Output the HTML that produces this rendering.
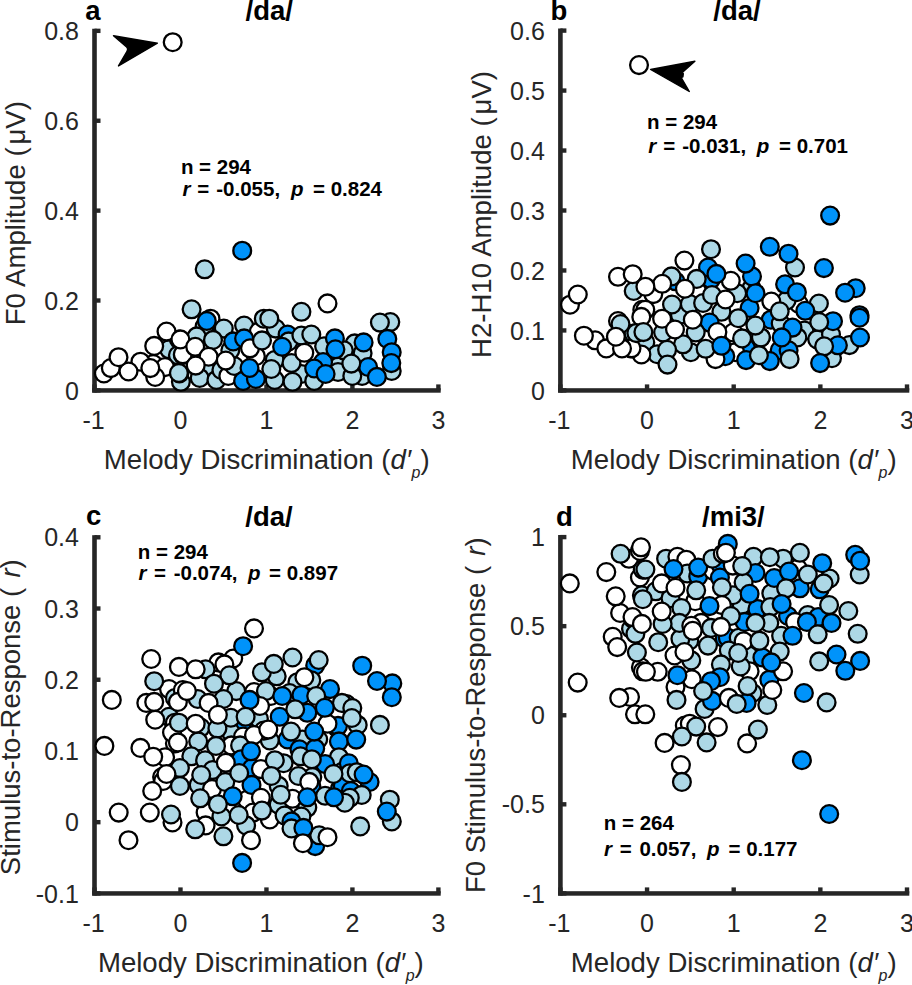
<!DOCTYPE html><html><head><meta charset="utf-8"><title>Melody discrimination scatter plots</title><style>
html,body{margin:0;padding:0;background:#fff;width:912px;height:985px;overflow:hidden}
svg{display:block}
text{font-family:"Liberation Sans",sans-serif;white-space:pre}
.tk{font-size:25px;fill:#262626}
.lb{font-size:27.8px;fill:#262626}
.ti{font-size:27.5px;font-weight:bold;fill:#000}
.an{font-size:20.5px;font-weight:bold;fill:#000}
.pts circle{stroke:#000;stroke-width:2.3}
.w{fill:#fff}.l{fill:#add8e6}.b{fill:#0093fa}
</style></head><body>
<svg width="912" height="985" viewBox="0 0 912 985">
<g fill="#262626">
<rect x="92.20" y="28.75" width="4.6" height="363.85"/>
<rect x="92.20" y="388.20" width="348.50" height="4.5"/>
<rect x="94.50" y="388.20" width="6" height="4.4"/>
<rect x="94.50" y="298.31" width="6" height="4.4"/>
<rect x="94.50" y="208.43" width="6" height="4.4"/>
<rect x="94.50" y="118.54" width="6" height="4.4"/>
<rect x="94.50" y="28.65" width="6" height="4.4"/>
<rect x="92.30" y="384.40" width="4.4" height="6"/>
<rect x="178.28" y="384.40" width="4.4" height="6"/>
<rect x="264.25" y="384.40" width="4.4" height="6"/>
<rect x="350.22" y="384.40" width="4.4" height="6"/>
<rect x="436.20" y="384.40" width="4.4" height="6"/>
</g>
<g class="pts">
<circle cx="169.0" cy="349.3" r="8.9" class="l"/>
<circle cx="177.9" cy="355.3" r="8.9" class="l"/>
<circle cx="180.9" cy="381.8" r="8.9" class="l"/>
<circle cx="153.2" cy="364.1" r="8.9" class="w"/>
<circle cx="165.0" cy="367.1" r="8.9" class="w"/>
<circle cx="155.2" cy="377.0" r="8.9" class="w"/>
<circle cx="140.4" cy="361.7" r="8.9" class="w"/>
<circle cx="179.4" cy="373.5" r="8.9" class="l"/>
<circle cx="210.5" cy="318.7" r="8.9" class="w"/>
<circle cx="204.6" cy="326.6" r="8.9" class="l"/>
<circle cx="196.7" cy="336.4" r="8.9" class="l"/>
<circle cx="182.9" cy="355.2" r="8.9" class="w"/>
<circle cx="207.6" cy="371.0" r="8.9" class="l"/>
<circle cx="199.7" cy="377.9" r="8.9" class="l"/>
<circle cx="216.4" cy="379.9" r="8.9" class="l"/>
<circle cx="221.4" cy="370.0" r="8.9" class="l"/>
<circle cx="228.3" cy="375.9" r="8.9" class="w"/>
<circle cx="234.2" cy="366.0" r="8.9" class="l"/>
<circle cx="244.1" cy="325.6" r="8.9" class="l"/>
<circle cx="258.9" cy="331.5" r="8.9" class="w"/>
<circle cx="263.8" cy="318.7" r="8.9" class="l"/>
<circle cx="255.9" cy="356.2" r="8.9" class="w"/>
<circle cx="275.7" cy="328.6" r="8.9" class="l"/>
<circle cx="287.6" cy="334.5" r="8.9" class="b"/>
<circle cx="288.6" cy="341.4" r="8.9" class="l"/>
<circle cx="301.4" cy="335.5" r="8.9" class="l"/>
<circle cx="324.1" cy="346.3" r="8.9" class="l"/>
<circle cx="274.7" cy="360.1" r="8.9" class="l"/>
<circle cx="274.7" cy="379.9" r="8.9" class="l"/>
<circle cx="301.4" cy="374.0" r="8.9" class="l"/>
<circle cx="338.9" cy="366.0" r="8.9" class="l"/>
<circle cx="323.1" cy="362.1" r="8.9" class="b"/>
<circle cx="314.2" cy="380.9" r="8.9" class="l"/>
<circle cx="338.0" cy="372.0" r="8.9" class="l"/>
<circle cx="347.8" cy="350.3" r="8.9" class="l"/>
<circle cx="354.7" cy="343.4" r="8.9" class="l"/>
<circle cx="362.6" cy="353.2" r="8.9" class="l"/>
<circle cx="362.1" cy="375.9" r="8.9" class="l"/>
<circle cx="390.3" cy="322.1" r="8.9" class="l"/>
<circle cx="391.7" cy="371.0" r="8.9" class="l"/>
<circle cx="223.8" cy="328.6" r="8.9" class="l"/>
<circle cx="230.3" cy="350.3" r="8.9" class="l"/>
<circle cx="233.2" cy="341.4" r="8.9" class="b"/>
<circle cx="244.1" cy="338.4" r="8.9" class="b"/>
<circle cx="250.0" cy="348.3" r="8.9" class="w"/>
<circle cx="243.1" cy="380.9" r="8.9" class="b"/>
<circle cx="255.9" cy="378.9" r="8.9" class="b"/>
<circle cx="343.8" cy="350.3" r="8.9" class="l"/>
<circle cx="291.5" cy="363.1" r="8.9" class="l"/>
<circle cx="334.9" cy="338.4" r="8.9" class="b"/>
<circle cx="352.3" cy="375.9" r="8.9" class="l"/>
<circle cx="368.1" cy="367.0" r="8.9" class="b"/>
<circle cx="103.9" cy="373.5" r="8.9" class="w"/>
<circle cx="110.8" cy="368.1" r="8.9" class="w"/>
<circle cx="128.5" cy="371.5" r="8.9" class="w"/>
<circle cx="118.5" cy="357.2" r="8.9" class="w"/>
<circle cx="150.3" cy="368.1" r="8.9" class="w"/>
<circle cx="154.2" cy="345.9" r="8.9" class="w"/>
<circle cx="178.9" cy="339.5" r="8.9" class="w"/>
<circle cx="166.5" cy="331.6" r="8.9" class="w"/>
<circle cx="182.8" cy="354.3" r="8.9" class="w"/>
<circle cx="178.9" cy="373.0" r="8.9" class="l"/>
<circle cx="191.6" cy="309.3" r="8.9" class="l"/>
<circle cx="206.8" cy="320.9" r="8.9" class="b"/>
<circle cx="213.0" cy="339.9" r="8.9" class="l"/>
<circle cx="180.4" cy="339.4" r="8.9" class="w"/>
<circle cx="195.2" cy="346.8" r="8.9" class="w"/>
<circle cx="208.6" cy="356.7" r="8.9" class="w"/>
<circle cx="195.7" cy="365.6" r="8.9" class="w"/>
<circle cx="225.8" cy="360.6" r="8.9" class="w"/>
<circle cx="262.0" cy="340.4" r="8.9" class="l"/>
<circle cx="249.5" cy="368.0" r="8.9" class="b"/>
<circle cx="269.3" cy="318.7" r="8.9" class="l"/>
<circle cx="282.1" cy="346.8" r="8.9" class="b"/>
<circle cx="311.3" cy="334.5" r="8.9" class="l"/>
<circle cx="304.3" cy="352.7" r="8.9" class="w"/>
<circle cx="335.4" cy="349.3" r="8.9" class="b"/>
<circle cx="271.3" cy="369.0" r="8.9" class="l"/>
<circle cx="292.5" cy="381.8" r="8.9" class="l"/>
<circle cx="314.2" cy="368.5" r="8.9" class="b"/>
<circle cx="325.6" cy="374.0" r="8.9" class="b"/>
<circle cx="379.9" cy="322.6" r="8.9" class="l"/>
<circle cx="387.3" cy="338.9" r="8.9" class="b"/>
<circle cx="391.7" cy="352.2" r="8.9" class="b"/>
<circle cx="391.3" cy="363.1" r="8.9" class="b"/>
<circle cx="376.9" cy="376.9" r="8.9" class="b"/>
<circle cx="351.3" cy="363.6" r="8.9" class="l"/>
<circle cx="363.6" cy="342.4" r="8.9" class="b"/>
<circle cx="301.4" cy="311.8" r="8.9" class="l"/>
<circle cx="327.5" cy="303.4" r="8.9" class="w"/>
<circle cx="204.7" cy="269.3" r="8.9" class="l"/>
<circle cx="242.2" cy="250.7" r="8.9" class="b"/>
<circle cx="172.7" cy="42.2" r="8.9" class="w"/>
</g>
<text class="tk" x="78.90" y="399.50" text-anchor="end">0</text>
<text class="tk" x="78.90" y="309.61" text-anchor="end">0.2</text>
<text class="tk" x="78.90" y="219.72" text-anchor="end">0.4</text>
<text class="tk" x="78.90" y="129.84" text-anchor="end">0.6</text>
<text class="tk" x="78.90" y="39.95" text-anchor="end">0.8</text>
<text class="tk" x="93.50" y="428.80" text-anchor="middle">-1</text>
<text class="tk" x="180.47" y="428.80" text-anchor="middle">0</text>
<text class="tk" x="266.45" y="428.80" text-anchor="middle">1</text>
<text class="tk" x="352.42" y="428.80" text-anchor="middle">2</text>
<text class="tk" x="438.40" y="428.80" text-anchor="middle">3</text>
<text class="lb" style="font-size:27.6px" x="103.80" y="469.00">Melody Discrimination (<tspan font-style="italic">d</tspan><tspan dx="1.3">′</tspan><tspan font-style="italic" font-size="16px" dy="9" dx="-0.8">p</tspan><tspan dy="-9" dx="0">)</tspan></text>
<g fill="#262626">
<rect x="558.10" y="28.50" width="4.6" height="364.10"/>
<rect x="558.10" y="388.20" width="351.20" height="4.5"/>
<rect x="560.40" y="388.20" width="6" height="4.4"/>
<rect x="560.40" y="328.23" width="6" height="4.4"/>
<rect x="560.40" y="268.27" width="6" height="4.4"/>
<rect x="560.40" y="208.30" width="6" height="4.4"/>
<rect x="560.40" y="148.33" width="6" height="4.4"/>
<rect x="560.40" y="88.37" width="6" height="4.4"/>
<rect x="560.40" y="28.40" width="6" height="4.4"/>
<rect x="558.20" y="384.40" width="4.4" height="6"/>
<rect x="644.85" y="384.40" width="4.4" height="6"/>
<rect x="731.50" y="384.40" width="4.4" height="6"/>
<rect x="818.15" y="384.40" width="4.4" height="6"/>
<rect x="904.80" y="384.40" width="4.4" height="6"/>
</g>
<g class="pts">
<circle cx="618.0" cy="321.0" r="8.9" class="w"/>
<circle cx="642.3" cy="309.8" r="8.9" class="w"/>
<circle cx="631.2" cy="348.4" r="8.9" class="w"/>
<circle cx="633.7" cy="291.0" r="8.9" class="l"/>
<circle cx="643.4" cy="343.3" r="8.9" class="l"/>
<circle cx="595.1" cy="340.3" r="8.9" class="w"/>
<circle cx="711.0" cy="279.3" r="8.9" class="b"/>
<circle cx="675.5" cy="281.3" r="8.9" class="b"/>
<circle cx="653.3" cy="294.1" r="8.9" class="w"/>
<circle cx="697.2" cy="291.2" r="8.9" class="w"/>
<circle cx="645.3" cy="309.8" r="8.9" class="w"/>
<circle cx="633.5" cy="333.5" r="8.9" class="l"/>
<circle cx="645.3" cy="342.4" r="8.9" class="l"/>
<circle cx="663.1" cy="332.5" r="8.9" class="l"/>
<circle cx="657.2" cy="354.2" r="8.9" class="l"/>
<circle cx="641.4" cy="354.5" r="8.9" class="w"/>
<circle cx="631.5" cy="348.3" r="8.9" class="w"/>
<circle cx="679.9" cy="314.7" r="8.9" class="l"/>
<circle cx="721.4" cy="311.8" r="8.9" class="l"/>
<circle cx="733.2" cy="332.5" r="8.9" class="w"/>
<circle cx="746.1" cy="348.3" r="8.9" class="b"/>
<circle cx="735.2" cy="352.2" r="8.9" class="w"/>
<circle cx="725.3" cy="356.2" r="8.9" class="b"/>
<circle cx="715.5" cy="359.1" r="8.9" class="w"/>
<circle cx="690.8" cy="352.2" r="8.9" class="l"/>
<circle cx="760.9" cy="337.4" r="8.9" class="l"/>
<circle cx="751.5" cy="288.2" r="8.9" class="l"/>
<circle cx="737.2" cy="293.2" r="8.9" class="l"/>
<circle cx="798.9" cy="304.0" r="8.9" class="w"/>
<circle cx="795.0" cy="267.5" r="8.9" class="l"/>
<circle cx="855.7" cy="288.2" r="8.9" class="b"/>
<circle cx="770.8" cy="319.7" r="8.9" class="b"/>
<circle cx="780.7" cy="323.6" r="8.9" class="l"/>
<circle cx="804.4" cy="330.5" r="8.9" class="l"/>
<circle cx="817.2" cy="339.4" r="8.9" class="l"/>
<circle cx="831.0" cy="334.5" r="8.9" class="l"/>
<circle cx="832.0" cy="358.2" r="8.9" class="l"/>
<circle cx="849.4" cy="345.1" r="8.9" class="l"/>
<circle cx="859.5" cy="315.2" r="8.9" class="b"/>
<circle cx="570.0" cy="304.7" r="8.9" class="w"/>
<circle cx="618.0" cy="276.8" r="8.9" class="w"/>
<circle cx="583.9" cy="335.7" r="8.9" class="w"/>
<circle cx="606.3" cy="348.4" r="8.9" class="w"/>
<circle cx="622.0" cy="348.4" r="8.9" class="w"/>
<circle cx="620.5" cy="324.0" r="8.9" class="l"/>
<circle cx="641.3" cy="316.9" r="8.9" class="w"/>
<circle cx="636.3" cy="333.1" r="8.9" class="l"/>
<circle cx="671.5" cy="276.4" r="8.9" class="l"/>
<circle cx="708.0" cy="267.5" r="8.9" class="b"/>
<circle cx="689.8" cy="304.0" r="8.9" class="l"/>
<circle cx="703.1" cy="303.0" r="8.9" class="l"/>
<circle cx="752.0" cy="276.4" r="8.9" class="b"/>
<circle cx="730.8" cy="280.8" r="8.9" class="w"/>
<circle cx="712.0" cy="295.0" r="8.9" class="l"/>
<circle cx="749.6" cy="308.0" r="8.9" class="b"/>
<circle cx="786.6" cy="300.5" r="8.9" class="l"/>
<circle cx="771.3" cy="301.5" r="8.9" class="w"/>
<circle cx="818.9" cy="303.5" r="8.9" class="l"/>
<circle cx="805.3" cy="310.8" r="8.9" class="b"/>
<circle cx="709.6" cy="322.6" r="8.9" class="b"/>
<circle cx="695.7" cy="332.5" r="8.9" class="l"/>
<circle cx="683.0" cy="344.3" r="8.9" class="l"/>
<circle cx="705.6" cy="348.8" r="8.9" class="l"/>
<circle cx="746.1" cy="360.1" r="8.9" class="b"/>
<circle cx="797.4" cy="337.4" r="8.9" class="l"/>
<circle cx="760.9" cy="337.4" r="8.9" class="l"/>
<circle cx="837.9" cy="345.3" r="8.9" class="b"/>
<circle cx="779.7" cy="350.3" r="8.9" class="b"/>
<circle cx="788.6" cy="350.3" r="8.9" class="b"/>
<circle cx="769.8" cy="361.1" r="8.9" class="b"/>
<circle cx="789.6" cy="359.1" r="8.9" class="l"/>
<circle cx="833.0" cy="321.2" r="8.9" class="b"/>
<circle cx="785.1" cy="284.3" r="8.9" class="b"/>
<circle cx="796.9" cy="292.2" r="8.9" class="b"/>
<circle cx="577.8" cy="294.5" r="8.9" class="w"/>
<circle cx="632.7" cy="274.2" r="8.9" class="w"/>
<circle cx="615.9" cy="336.7" r="8.9" class="w"/>
<circle cx="643.4" cy="332.1" r="8.9" class="l"/>
<circle cx="711.0" cy="249.2" r="8.9" class="l"/>
<circle cx="684.4" cy="260.6" r="8.9" class="w"/>
<circle cx="716.4" cy="273.9" r="8.9" class="b"/>
<circle cx="662.2" cy="283.8" r="8.9" class="w"/>
<circle cx="645.4" cy="286.7" r="8.9" class="w"/>
<circle cx="696.7" cy="278.9" r="8.9" class="l"/>
<circle cx="684.9" cy="288.7" r="8.9" class="w"/>
<circle cx="672.0" cy="304.5" r="8.9" class="l"/>
<circle cx="662.1" cy="318.7" r="8.9" class="w"/>
<circle cx="675.0" cy="329.5" r="8.9" class="w"/>
<circle cx="667.1" cy="349.8" r="8.9" class="l"/>
<circle cx="667.5" cy="364.6" r="8.9" class="l"/>
<circle cx="769.8" cy="246.8" r="8.9" class="b"/>
<circle cx="788.5" cy="253.7" r="8.9" class="b"/>
<circle cx="745.6" cy="263.6" r="8.9" class="b"/>
<circle cx="755.5" cy="293.2" r="8.9" class="b"/>
<circle cx="725.5" cy="299.5" r="8.9" class="w"/>
<circle cx="738.2" cy="318.2" r="8.9" class="l"/>
<circle cx="692.8" cy="319.7" r="8.9" class="w"/>
<circle cx="717.4" cy="332.0" r="8.9" class="w"/>
<circle cx="755.4" cy="325.6" r="8.9" class="l"/>
<circle cx="742.1" cy="338.4" r="8.9" class="l"/>
<circle cx="721.4" cy="345.8" r="8.9" class="b"/>
<circle cx="758.9" cy="355.2" r="8.9" class="l"/>
<circle cx="779.7" cy="311.3" r="8.9" class="l"/>
<circle cx="819.2" cy="322.1" r="8.9" class="l"/>
<circle cx="792.5" cy="327.6" r="8.9" class="b"/>
<circle cx="781.7" cy="337.4" r="8.9" class="b"/>
<circle cx="824.1" cy="346.3" r="8.9" class="l"/>
<circle cx="820.1" cy="363.1" r="8.9" class="b"/>
<circle cx="830.1" cy="215.6" r="8.9" class="b"/>
<circle cx="823.9" cy="268.1" r="8.9" class="b"/>
<circle cx="845.1" cy="292.7" r="8.9" class="b"/>
<circle cx="859.5" cy="317.7" r="8.9" class="b"/>
<circle cx="860.0" cy="337.5" r="8.9" class="b"/>
<circle cx="639.0" cy="65.1" r="8.9" class="w"/>
</g>
<text class="tk" x="544.80" y="399.50" text-anchor="end">0</text>
<text class="tk" x="544.80" y="339.53" text-anchor="end">0.1</text>
<text class="tk" x="544.80" y="279.57" text-anchor="end">0.2</text>
<text class="tk" x="544.80" y="219.60" text-anchor="end">0.3</text>
<text class="tk" x="544.80" y="159.63" text-anchor="end">0.4</text>
<text class="tk" x="544.80" y="99.67" text-anchor="end">0.5</text>
<text class="tk" x="544.80" y="39.70" text-anchor="end">0.6</text>
<text class="tk" x="559.40" y="428.80" text-anchor="middle">-1</text>
<text class="tk" x="647.05" y="428.80" text-anchor="middle">0</text>
<text class="tk" x="733.70" y="428.80" text-anchor="middle">1</text>
<text class="tk" x="820.35" y="428.80" text-anchor="middle">2</text>
<text class="tk" x="907.00" y="428.80" text-anchor="middle">3</text>
<text class="lb" style="font-size:27.6px" x="570.80" y="469.00">Melody Discrimination (<tspan font-style="italic">d</tspan><tspan dx="1.3">′</tspan><tspan font-style="italic" font-size="16px" dy="9" dx="-0.8">p</tspan><tspan dy="-9" dx="0">)</tspan></text>
<g fill="#262626">
<rect x="92.20" y="535.20" width="4.6" height="360.40"/>
<rect x="92.20" y="891.20" width="348.50" height="4.5"/>
<rect x="94.50" y="891.20" width="6" height="4.4"/>
<rect x="94.50" y="819.98" width="6" height="4.4"/>
<rect x="94.50" y="748.76" width="6" height="4.4"/>
<rect x="94.50" y="677.54" width="6" height="4.4"/>
<rect x="94.50" y="606.32" width="6" height="4.4"/>
<rect x="94.50" y="535.10" width="6" height="4.4"/>
<rect x="92.30" y="887.40" width="4.4" height="6"/>
<rect x="178.28" y="887.40" width="4.4" height="6"/>
<rect x="264.25" y="887.40" width="4.4" height="6"/>
<rect x="350.22" y="887.40" width="4.4" height="6"/>
<rect x="436.20" y="887.40" width="4.4" height="6"/>
</g>
<g class="pts">
<circle cx="169.0" cy="689.1" r="8.9" class="w"/>
<circle cx="146.3" cy="702.9" r="8.9" class="w"/>
<circle cx="174.9" cy="698.0" r="8.9" class="l"/>
<circle cx="218.4" cy="662.4" r="8.9" class="w"/>
<circle cx="233.2" cy="658.5" r="8.9" class="w"/>
<circle cx="205.6" cy="669.3" r="8.9" class="l"/>
<circle cx="197.7" cy="699.0" r="8.9" class="l"/>
<circle cx="254.0" cy="692.0" r="8.9" class="w"/>
<circle cx="315.2" cy="665.4" r="8.9" class="b"/>
<circle cx="276.7" cy="676.3" r="8.9" class="l"/>
<circle cx="311.3" cy="680.2" r="8.9" class="l"/>
<circle cx="297.4" cy="682.2" r="8.9" class="l"/>
<circle cx="289.6" cy="693.0" r="8.9" class="l"/>
<circle cx="301.4" cy="695.0" r="8.9" class="b"/>
<circle cx="270.8" cy="696.0" r="8.9" class="w"/>
<circle cx="265.9" cy="691.1" r="8.9" class="l"/>
<circle cx="392.3" cy="683.4" r="8.9" class="b"/>
<circle cx="346.4" cy="704.1" r="8.9" class="l"/>
<circle cx="357.7" cy="724.9" r="8.9" class="l"/>
<circle cx="169.0" cy="716.8" r="8.9" class="l"/>
<circle cx="174.9" cy="722.7" r="8.9" class="w"/>
<circle cx="174.9" cy="743.4" r="8.9" class="w"/>
<circle cx="172.0" cy="732.6" r="8.9" class="w"/>
<circle cx="162.1" cy="777.0" r="8.9" class="w"/>
<circle cx="165.1" cy="757.2" r="8.9" class="w"/>
<circle cx="242.1" cy="723.7" r="8.9" class="b"/>
<circle cx="258.9" cy="718.8" r="8.9" class="l"/>
<circle cx="200.7" cy="727.6" r="8.9" class="l"/>
<circle cx="230.3" cy="731.6" r="8.9" class="l"/>
<circle cx="243.1" cy="736.5" r="8.9" class="w"/>
<circle cx="231.3" cy="745.4" r="8.9" class="w"/>
<circle cx="240.1" cy="745.4" r="8.9" class="l"/>
<circle cx="241.1" cy="759.2" r="8.9" class="b"/>
<circle cx="198.7" cy="784.9" r="8.9" class="l"/>
<circle cx="307.3" cy="712.8" r="8.9" class="b"/>
<circle cx="260.0" cy="706.0" r="8.9" class="w"/>
<circle cx="287.6" cy="739.5" r="8.9" class="b"/>
<circle cx="337.0" cy="727.6" r="8.9" class="b"/>
<circle cx="318.2" cy="739.5" r="8.9" class="l"/>
<circle cx="269.8" cy="740.5" r="8.9" class="l"/>
<circle cx="302.4" cy="739.5" r="8.9" class="l"/>
<circle cx="299.4" cy="749.3" r="8.9" class="b"/>
<circle cx="315.2" cy="748.4" r="8.9" class="b"/>
<circle cx="283.6" cy="763.2" r="8.9" class="l"/>
<circle cx="312.3" cy="777.0" r="8.9" class="l"/>
<circle cx="278.7" cy="785.9" r="8.9" class="l"/>
<circle cx="369.6" cy="782.0" r="8.9" class="b"/>
<circle cx="163.1" cy="781.0" r="8.9" class="w"/>
<circle cx="172.5" cy="822.4" r="8.9" class="w"/>
<circle cx="212.0" cy="788.9" r="8.9" class="w"/>
<circle cx="205.6" cy="812.6" r="8.9" class="w"/>
<circle cx="221.4" cy="816.5" r="8.9" class="l"/>
<circle cx="247.1" cy="799.7" r="8.9" class="w"/>
<circle cx="253.0" cy="812.6" r="8.9" class="w"/>
<circle cx="205.6" cy="825.4" r="8.9" class="w"/>
<circle cx="269.8" cy="819.5" r="8.9" class="w"/>
<circle cx="278.7" cy="804.7" r="8.9" class="l"/>
<circle cx="284.6" cy="815.5" r="8.9" class="l"/>
<circle cx="292.5" cy="798.8" r="8.9" class="w"/>
<circle cx="311.3" cy="791.8" r="8.9" class="l"/>
<circle cx="311.3" cy="785.9" r="8.9" class="b"/>
<circle cx="307.3" cy="807.6" r="8.9" class="l"/>
<circle cx="325.1" cy="795.8" r="8.9" class="l"/>
<circle cx="339.9" cy="788.9" r="8.9" class="b"/>
<circle cx="301.4" cy="816.5" r="8.9" class="l"/>
<circle cx="291.5" cy="821.4" r="8.9" class="b"/>
<circle cx="315.2" cy="846.1" r="8.9" class="b"/>
<circle cx="319.2" cy="835.3" r="8.9" class="l"/>
<circle cx="391.8" cy="821.4" r="8.9" class="l"/>
<circle cx="389.8" cy="799.7" r="8.9" class="l"/>
<circle cx="178.9" cy="666.9" r="8.9" class="w"/>
<circle cx="182.8" cy="690.1" r="8.9" class="w"/>
<circle cx="177.9" cy="701.9" r="8.9" class="w"/>
<circle cx="224.4" cy="664.4" r="8.9" class="w"/>
<circle cx="186.9" cy="691.1" r="8.9" class="w"/>
<circle cx="236.2" cy="691.1" r="8.9" class="l"/>
<circle cx="261.9" cy="672.3" r="8.9" class="l"/>
<circle cx="341.9" cy="702.9" r="8.9" class="l"/>
<circle cx="352.3" cy="708.1" r="8.9" class="l"/>
<circle cx="338.0" cy="725.9" r="8.9" class="b"/>
<circle cx="230.8" cy="717.8" r="8.9" class="l"/>
<circle cx="217.4" cy="728.6" r="8.9" class="l"/>
<circle cx="198.2" cy="741.4" r="8.9" class="l"/>
<circle cx="191.3" cy="756.3" r="8.9" class="l"/>
<circle cx="205.1" cy="760.2" r="8.9" class="l"/>
<circle cx="212.5" cy="770.1" r="8.9" class="l"/>
<circle cx="252.0" cy="768.1" r="8.9" class="b"/>
<circle cx="260.9" cy="769.1" r="8.9" class="w"/>
<circle cx="225.3" cy="781.9" r="8.9" class="l"/>
<circle cx="251.5" cy="784.9" r="8.9" class="b"/>
<circle cx="179.9" cy="768.1" r="8.9" class="l"/>
<circle cx="179.9" cy="785.9" r="8.9" class="l"/>
<circle cx="263.8" cy="730.6" r="8.9" class="w"/>
<circle cx="279.7" cy="716.8" r="8.9" class="b"/>
<circle cx="327.5" cy="723.7" r="8.9" class="w"/>
<circle cx="338.9" cy="741.4" r="8.9" class="b"/>
<circle cx="300.4" cy="756.3" r="8.9" class="l"/>
<circle cx="338.9" cy="757.2" r="8.9" class="l"/>
<circle cx="325.1" cy="764.1" r="8.9" class="b"/>
<circle cx="298.4" cy="776.0" r="8.9" class="l"/>
<circle cx="309.3" cy="781.9" r="8.9" class="w"/>
<circle cx="341.9" cy="772.0" r="8.9" class="l"/>
<circle cx="342.8" cy="785.9" r="8.9" class="b"/>
<circle cx="356.2" cy="739.6" r="8.9" class="b"/>
<circle cx="348.8" cy="763.3" r="8.9" class="b"/>
<circle cx="349.8" cy="773.2" r="8.9" class="l"/>
<circle cx="356.7" cy="772.2" r="8.9" class="l"/>
<circle cx="350.8" cy="791.0" r="8.9" class="b"/>
<circle cx="361.7" cy="794.9" r="8.9" class="l"/>
<circle cx="349.8" cy="797.8" r="8.9" class="l"/>
<circle cx="200.2" cy="798.3" r="8.9" class="l"/>
<circle cx="260.9" cy="797.8" r="8.9" class="w"/>
<circle cx="246.1" cy="825.4" r="8.9" class="l"/>
<circle cx="280.7" cy="794.8" r="8.9" class="l"/>
<circle cx="344.8" cy="802.7" r="8.9" class="l"/>
<circle cx="291.5" cy="828.4" r="8.9" class="l"/>
<circle cx="152.2" cy="791.0" r="8.9" class="w"/>
<circle cx="151.2" cy="659.0" r="8.9" class="w"/>
<circle cx="154.2" cy="681.2" r="8.9" class="l"/>
<circle cx="111.8" cy="699.9" r="8.9" class="w"/>
<circle cx="154.2" cy="701.9" r="8.9" class="w"/>
<circle cx="254.0" cy="628.4" r="8.9" class="w"/>
<circle cx="243.1" cy="646.2" r="8.9" class="b"/>
<circle cx="229.3" cy="675.3" r="8.9" class="l"/>
<circle cx="195.7" cy="669.3" r="8.9" class="w"/>
<circle cx="214.0" cy="683.7" r="8.9" class="l"/>
<circle cx="223.4" cy="699.0" r="8.9" class="l"/>
<circle cx="208.6" cy="702.9" r="8.9" class="w"/>
<circle cx="249.5" cy="699.9" r="8.9" class="b"/>
<circle cx="292.5" cy="657.5" r="8.9" class="l"/>
<circle cx="318.7" cy="660.0" r="8.9" class="l"/>
<circle cx="273.8" cy="663.9" r="8.9" class="l"/>
<circle cx="304.4" cy="677.2" r="8.9" class="w"/>
<circle cx="330.0" cy="689.1" r="8.9" class="b"/>
<circle cx="282.2" cy="696.0" r="8.9" class="b"/>
<circle cx="316.2" cy="696.0" r="8.9" class="l"/>
<circle cx="295.2" cy="709.3" r="8.9" class="l"/>
<circle cx="324.8" cy="707.8" r="8.9" class="b"/>
<circle cx="362.2" cy="665.7" r="8.9" class="b"/>
<circle cx="377.0" cy="681.0" r="8.9" class="b"/>
<circle cx="391.8" cy="697.2" r="8.9" class="b"/>
<circle cx="351.8" cy="718.0" r="8.9" class="l"/>
<circle cx="379.9" cy="724.9" r="8.9" class="l"/>
<circle cx="104.4" cy="745.9" r="8.9" class="w"/>
<circle cx="140.4" cy="747.9" r="8.9" class="w"/>
<circle cx="153.2" cy="756.7" r="8.9" class="w"/>
<circle cx="155.2" cy="719.7" r="8.9" class="w"/>
<circle cx="178.9" cy="722.7" r="8.9" class="l"/>
<circle cx="177.9" cy="742.4" r="8.9" class="w"/>
<circle cx="166.5" cy="774.0" r="8.9" class="w"/>
<circle cx="217.9" cy="714.8" r="8.9" class="w"/>
<circle cx="245.6" cy="716.8" r="8.9" class="l"/>
<circle cx="195.7" cy="723.7" r="8.9" class="w"/>
<circle cx="254.0" cy="735.0" r="8.9" class="w"/>
<circle cx="216.0" cy="745.9" r="8.9" class="l"/>
<circle cx="251.0" cy="751.3" r="8.9" class="b"/>
<circle cx="225.8" cy="762.7" r="8.9" class="w"/>
<circle cx="201.2" cy="775.0" r="8.9" class="l"/>
<circle cx="239.2" cy="773.0" r="8.9" class="l"/>
<circle cx="268.3" cy="729.6" r="8.9" class="w"/>
<circle cx="291.0" cy="731.6" r="8.9" class="l"/>
<circle cx="314.2" cy="731.6" r="8.9" class="b"/>
<circle cx="311.8" cy="759.2" r="8.9" class="l"/>
<circle cx="274.8" cy="760.2" r="8.9" class="l"/>
<circle cx="333.5" cy="774.0" r="8.9" class="l"/>
<circle cx="271.3" cy="776.0" r="8.9" class="l"/>
<circle cx="363.6" cy="774.6" r="8.9" class="b"/>
<circle cx="118.7" cy="812.6" r="8.9" class="w"/>
<circle cx="149.8" cy="812.6" r="8.9" class="w"/>
<circle cx="171.0" cy="814.5" r="8.9" class="l"/>
<circle cx="128.5" cy="840.2" r="8.9" class="w"/>
<circle cx="232.7" cy="796.3" r="8.9" class="b"/>
<circle cx="217.9" cy="804.2" r="8.9" class="l"/>
<circle cx="238.7" cy="815.0" r="8.9" class="l"/>
<circle cx="261.9" cy="810.6" r="8.9" class="l"/>
<circle cx="195.2" cy="829.3" r="8.9" class="l"/>
<circle cx="223.4" cy="836.3" r="8.9" class="l"/>
<circle cx="251.0" cy="840.2" r="8.9" class="w"/>
<circle cx="242.1" cy="862.9" r="8.9" class="b"/>
<circle cx="307.3" cy="797.3" r="8.9" class="b"/>
<circle cx="334.0" cy="797.3" r="8.9" class="b"/>
<circle cx="303.4" cy="827.9" r="8.9" class="b"/>
<circle cx="302.9" cy="843.2" r="8.9" class="w"/>
<circle cx="327.5" cy="837.2" r="8.9" class="w"/>
<circle cx="386.8" cy="811.6" r="8.9" class="b"/>
<circle cx="360.2" cy="826.4" r="8.9" class="l"/>
</g>
<text class="tk" x="78.90" y="902.50" text-anchor="end">-0.1</text>
<text class="tk" x="78.90" y="831.28" text-anchor="end">0</text>
<text class="tk" x="78.90" y="760.06" text-anchor="end">0.1</text>
<text class="tk" x="78.90" y="688.84" text-anchor="end">0.2</text>
<text class="tk" x="78.90" y="617.62" text-anchor="end">0.3</text>
<text class="tk" x="78.90" y="546.40" text-anchor="end">0.4</text>
<text class="tk" x="93.50" y="931.80" text-anchor="middle">-1</text>
<text class="tk" x="180.47" y="931.80" text-anchor="middle">0</text>
<text class="tk" x="266.45" y="931.80" text-anchor="middle">1</text>
<text class="tk" x="352.42" y="931.80" text-anchor="middle">2</text>
<text class="tk" x="438.40" y="931.80" text-anchor="middle">3</text>
<text class="lb" style="font-size:27.6px" x="97.90" y="972.00">Melody Discrimination (<tspan font-style="italic">d</tspan><tspan dx="1.3">′</tspan><tspan font-style="italic" font-size="16px" dy="9" dx="-0.8">p</tspan><tspan dy="-9" dx="0">)</tspan></text>
<g fill="#262626">
<rect x="558.10" y="535.00" width="4.6" height="360.60"/>
<rect x="558.10" y="891.20" width="351.20" height="4.5"/>
<rect x="560.40" y="891.20" width="6" height="4.4"/>
<rect x="560.40" y="802.12" width="6" height="4.4"/>
<rect x="560.40" y="713.05" width="6" height="4.4"/>
<rect x="560.40" y="623.97" width="6" height="4.4"/>
<rect x="560.40" y="534.90" width="6" height="4.4"/>
<rect x="558.20" y="887.40" width="4.4" height="6"/>
<rect x="644.85" y="887.40" width="4.4" height="6"/>
<rect x="731.50" y="887.40" width="4.4" height="6"/>
<rect x="818.15" y="887.40" width="4.4" height="6"/>
<rect x="904.80" y="887.40" width="4.4" height="6"/>
</g>
<g class="pts">
<circle cx="629.0" cy="558.8" r="8.9" class="w"/>
<circle cx="639.9" cy="550.9" r="8.9" class="w"/>
<circle cx="641.0" cy="547.3" r="8.9" class="w"/>
<circle cx="639.9" cy="577.5" r="8.9" class="w"/>
<circle cx="641.9" cy="595.3" r="8.9" class="l"/>
<circle cx="620.1" cy="613.0" r="8.9" class="w"/>
<circle cx="666.1" cy="558.7" r="8.9" class="l"/>
<circle cx="677.4" cy="556.8" r="8.9" class="w"/>
<circle cx="686.3" cy="559.7" r="8.9" class="w"/>
<circle cx="687.3" cy="573.5" r="8.9" class="l"/>
<circle cx="698.2" cy="576.5" r="8.9" class="b"/>
<circle cx="713.0" cy="570.6" r="8.9" class="w"/>
<circle cx="720.9" cy="565.6" r="8.9" class="b"/>
<circle cx="719.9" cy="577.5" r="8.9" class="b"/>
<circle cx="655.7" cy="591.3" r="8.9" class="l"/>
<circle cx="670.5" cy="598.2" r="8.9" class="l"/>
<circle cx="695.2" cy="601.2" r="8.9" class="w"/>
<circle cx="727.8" cy="543.9" r="8.9" class="b"/>
<circle cx="753.5" cy="556.8" r="8.9" class="l"/>
<circle cx="732.8" cy="565.6" r="8.9" class="w"/>
<circle cx="797.9" cy="568.6" r="8.9" class="w"/>
<circle cx="783.1" cy="558.7" r="8.9" class="l"/>
<circle cx="798.9" cy="580.4" r="8.9" class="l"/>
<circle cx="799.9" cy="588.3" r="8.9" class="b"/>
<circle cx="771.3" cy="593.3" r="8.9" class="l"/>
<circle cx="741.7" cy="605.1" r="8.9" class="l"/>
<circle cx="788.0" cy="616.0" r="8.9" class="b"/>
<circle cx="732.8" cy="595.2" r="8.9" class="l"/>
<circle cx="829.6" cy="578.5" r="8.9" class="l"/>
<circle cx="819.7" cy="589.3" r="8.9" class="b"/>
<circle cx="855.2" cy="554.8" r="8.9" class="b"/>
<circle cx="859.7" cy="574.5" r="8.9" class="l"/>
<circle cx="807.8" cy="615.0" r="8.9" class="l"/>
<circle cx="818.2" cy="617.0" r="8.9" class="b"/>
<circle cx="807.8" cy="574.5" r="8.9" class="l"/>
<circle cx="612.7" cy="636.8" r="8.9" class="w"/>
<circle cx="630.0" cy="697.0" r="8.9" class="w"/>
<circle cx="640.9" cy="667.3" r="8.9" class="w"/>
<circle cx="701.1" cy="622.9" r="8.9" class="w"/>
<circle cx="689.3" cy="640.7" r="8.9" class="l"/>
<circle cx="680.4" cy="638.7" r="8.9" class="l"/>
<circle cx="674.5" cy="655.5" r="8.9" class="w"/>
<circle cx="691.3" cy="660.4" r="8.9" class="l"/>
<circle cx="715.9" cy="635.8" r="8.9" class="w"/>
<circle cx="711.0" cy="627.9" r="8.9" class="l"/>
<circle cx="724.8" cy="638.7" r="8.9" class="b"/>
<circle cx="657.7" cy="671.8" r="8.9" class="w"/>
<circle cx="691.8" cy="679.2" r="8.9" class="w"/>
<circle cx="675.5" cy="687.1" r="8.9" class="w"/>
<circle cx="781.1" cy="635.8" r="8.9" class="l"/>
<circle cx="727.8" cy="637.7" r="8.9" class="b"/>
<circle cx="738.7" cy="637.7" r="8.9" class="l"/>
<circle cx="728.8" cy="650.6" r="8.9" class="l"/>
<circle cx="748.6" cy="655.5" r="8.9" class="l"/>
<circle cx="762.4" cy="657.5" r="8.9" class="b"/>
<circle cx="749.6" cy="671.3" r="8.9" class="w"/>
<circle cx="752.5" cy="693.0" r="8.9" class="l"/>
<circle cx="769.3" cy="679.7" r="8.9" class="b"/>
<circle cx="746.6" cy="702.9" r="8.9" class="b"/>
<circle cx="635.0" cy="714.3" r="8.9" class="w"/>
<circle cx="684.8" cy="725.6" r="8.9" class="w"/>
<circle cx="704.6" cy="708.9" r="8.9" class="l"/>
<circle cx="689.8" cy="723.7" r="8.9" class="w"/>
<circle cx="642.8" cy="569.6" r="8.9" class="l"/>
<circle cx="661.7" cy="583.4" r="8.9" class="w"/>
<circle cx="721.9" cy="587.3" r="8.9" class="l"/>
<circle cx="681.4" cy="608.1" r="8.9" class="l"/>
<circle cx="721.9" cy="605.1" r="8.9" class="w"/>
<circle cx="679.4" cy="622.9" r="8.9" class="l"/>
<circle cx="691.3" cy="625.8" r="8.9" class="w"/>
<circle cx="662.6" cy="623.9" r="8.9" class="l"/>
<circle cx="631.0" cy="628.8" r="8.9" class="l"/>
<circle cx="755.5" cy="573.0" r="8.9" class="b"/>
<circle cx="774.2" cy="578.0" r="8.9" class="b"/>
<circle cx="743.6" cy="582.4" r="8.9" class="l"/>
<circle cx="757.4" cy="609.1" r="8.9" class="b"/>
<circle cx="770.3" cy="607.1" r="8.9" class="l"/>
<circle cx="795.0" cy="621.9" r="8.9" class="w"/>
<circle cx="744.6" cy="621.9" r="8.9" class="b"/>
<circle cx="769.3" cy="622.9" r="8.9" class="l"/>
<circle cx="831.5" cy="622.9" r="8.9" class="b"/>
<circle cx="806.9" cy="621.9" r="8.9" class="b"/>
<circle cx="633.0" cy="619.0" r="8.9" class="w"/>
<circle cx="635.4" cy="633.8" r="8.9" class="l"/>
<circle cx="720.9" cy="664.4" r="8.9" class="l"/>
<circle cx="719.9" cy="677.2" r="8.9" class="b"/>
<circle cx="711.0" cy="681.2" r="8.9" class="b"/>
<circle cx="712.0" cy="700.9" r="8.9" class="b"/>
<circle cx="743.6" cy="641.2" r="8.9" class="w"/>
<circle cx="759.4" cy="640.7" r="8.9" class="l"/>
<circle cx="740.7" cy="666.4" r="8.9" class="l"/>
<circle cx="783.1" cy="671.3" r="8.9" class="w"/>
<circle cx="728.8" cy="697.9" r="8.9" class="w"/>
<circle cx="736.7" cy="703.9" r="8.9" class="l"/>
<circle cx="767.3" cy="705.0" r="8.9" class="l"/>
<circle cx="819.2" cy="661.4" r="8.9" class="l"/>
<circle cx="836.5" cy="654.5" r="8.9" class="b"/>
<circle cx="860.1" cy="660.9" r="8.9" class="b"/>
<circle cx="845.3" cy="670.8" r="8.9" class="b"/>
<circle cx="826.6" cy="702.4" r="8.9" class="l"/>
<circle cx="681.9" cy="736.5" r="8.9" class="l"/>
<circle cx="680.9" cy="765.1" r="8.9" class="w"/>
<circle cx="681.9" cy="781.9" r="8.9" class="l"/>
<circle cx="569.8" cy="583.4" r="8.9" class="w"/>
<circle cx="606.3" cy="572.1" r="8.9" class="w"/>
<circle cx="620.6" cy="553.8" r="8.9" class="l"/>
<circle cx="642.8" cy="599.2" r="8.9" class="l"/>
<circle cx="615.7" cy="596.3" r="8.9" class="w"/>
<circle cx="632.5" cy="617.0" r="8.9" class="w"/>
<circle cx="645.4" cy="569.6" r="8.9" class="l"/>
<circle cx="673.5" cy="569.1" r="8.9" class="b"/>
<circle cx="675.5" cy="587.8" r="8.9" class="w"/>
<circle cx="698.2" cy="567.6" r="8.9" class="b"/>
<circle cx="712.5" cy="558.7" r="8.9" class="l"/>
<circle cx="722.8" cy="553.8" r="8.9" class="w"/>
<circle cx="696.2" cy="590.3" r="8.9" class="l"/>
<circle cx="661.7" cy="611.5" r="8.9" class="w"/>
<circle cx="709.5" cy="606.1" r="8.9" class="b"/>
<circle cx="725.9" cy="552.8" r="8.9" class="w"/>
<circle cx="769.8" cy="557.2" r="8.9" class="l"/>
<circle cx="799.9" cy="552.8" r="8.9" class="l"/>
<circle cx="742.2" cy="566.1" r="8.9" class="l"/>
<circle cx="789.0" cy="571.6" r="8.9" class="b"/>
<circle cx="749.6" cy="593.8" r="8.9" class="b"/>
<circle cx="786.1" cy="588.3" r="8.9" class="l"/>
<circle cx="730.8" cy="616.0" r="8.9" class="l"/>
<circle cx="781.6" cy="604.1" r="8.9" class="b"/>
<circle cx="755.5" cy="622.9" r="8.9" class="l"/>
<circle cx="822.2" cy="563.2" r="8.9" class="b"/>
<circle cx="823.6" cy="583.4" r="8.9" class="l"/>
<circle cx="860.1" cy="560.7" r="8.9" class="b"/>
<circle cx="829.1" cy="605.1" r="8.9" class="l"/>
<circle cx="848.3" cy="611.0" r="8.9" class="l"/>
<circle cx="577.7" cy="682.6" r="8.9" class="w"/>
<circle cx="617.2" cy="647.1" r="8.9" class="w"/>
<circle cx="641.9" cy="623.9" r="8.9" class="w"/>
<circle cx="636.9" cy="652.5" r="8.9" class="l"/>
<circle cx="642.8" cy="671.3" r="8.9" class="w"/>
<circle cx="619.2" cy="697.9" r="8.9" class="w"/>
<circle cx="692.7" cy="630.8" r="8.9" class="w"/>
<circle cx="658.2" cy="642.2" r="8.9" class="l"/>
<circle cx="684.4" cy="652.0" r="8.9" class="w"/>
<circle cx="708.0" cy="645.6" r="8.9" class="l"/>
<circle cx="720.9" cy="626.9" r="8.9" class="w"/>
<circle cx="645.9" cy="671.8" r="8.9" class="w"/>
<circle cx="677.4" cy="675.2" r="8.9" class="b"/>
<circle cx="703.1" cy="691.0" r="8.9" class="l"/>
<circle cx="676.5" cy="699.9" r="8.9" class="l"/>
<circle cx="792.5" cy="635.8" r="8.9" class="b"/>
<circle cx="738.2" cy="653.0" r="8.9" class="l"/>
<circle cx="779.7" cy="651.6" r="8.9" class="l"/>
<circle cx="771.3" cy="662.4" r="8.9" class="b"/>
<circle cx="747.6" cy="686.1" r="8.9" class="l"/>
<circle cx="772.3" cy="690.0" r="8.9" class="w"/>
<circle cx="803.9" cy="693.0" r="8.9" class="b"/>
<circle cx="817.7" cy="634.3" r="8.9" class="l"/>
<circle cx="857.7" cy="633.8" r="8.9" class="l"/>
<circle cx="645.3" cy="714.3" r="8.9" class="w"/>
<circle cx="664.6" cy="742.9" r="8.9" class="w"/>
<circle cx="696.2" cy="726.6" r="8.9" class="l"/>
<circle cx="717.9" cy="727.1" r="8.9" class="w"/>
<circle cx="706.6" cy="742.4" r="8.9" class="l"/>
<circle cx="757.9" cy="729.6" r="8.9" class="l"/>
<circle cx="747.1" cy="743.4" r="8.9" class="w"/>
<circle cx="801.9" cy="760.2" r="8.9" class="b"/>
<circle cx="829.2" cy="814.0" r="8.9" class="b"/>
</g>
<text class="tk" x="544.80" y="902.50" text-anchor="end">-1</text>
<text class="tk" x="544.80" y="813.43" text-anchor="end">-0.5</text>
<text class="tk" x="544.80" y="724.35" text-anchor="end">0</text>
<text class="tk" x="544.80" y="635.27" text-anchor="end">0.5</text>
<text class="tk" x="544.80" y="546.20" text-anchor="end">1</text>
<text class="tk" x="559.40" y="931.80" text-anchor="middle">-1</text>
<text class="tk" x="647.05" y="931.80" text-anchor="middle">0</text>
<text class="tk" x="733.70" y="931.80" text-anchor="middle">1</text>
<text class="tk" x="820.35" y="931.80" text-anchor="middle">2</text>
<text class="tk" x="907.00" y="931.80" text-anchor="middle">3</text>
<text class="lb" style="font-size:27.6px" x="570.80" y="972.00">Melody Discrimination (<tspan font-style="italic">d</tspan><tspan dx="1.3">′</tspan><tspan font-style="italic" font-size="16px" dy="9" dx="-0.8">p</tspan><tspan dy="-9" dx="0">)</tspan></text>
<!-- panel letters and titles -->
<text class="ti" x="85.2" y="20">a</text>
<text class="ti" x="269.3" y="19.7" text-anchor="middle">/da/</text>
<text class="ti" x="550.5" y="19.7">b</text>
<text class="ti" x="737" y="19.7" text-anchor="middle">/da/</text>
<text class="ti" x="86" y="525.3">c</text>
<text class="ti" x="269" y="525.5" text-anchor="middle">/da/</text>
<text class="ti" x="556" y="525.5">d</text>
<text class="ti" x="733.4" y="525.5" text-anchor="middle">/mi3/</text>
<!-- y labels -->
<text class="lb" style="font-size:27.6px" transform="translate(25,213.2) rotate(-90)" text-anchor="middle">F0 Amplitude (<tspan dx="2.8">μ</tspan>V)</text>
<text class="lb" style="font-size:27.6px" transform="translate(490.9,214.5) rotate(-90)" text-anchor="middle">H2-H10 Amplitude (<tspan dx="2.8">μ</tspan>V)</text>
<text class="lb" style="font-size:27.5px" transform="translate(20,717.2) rotate(-90)" text-anchor="middle">Stimulus-to-Response (<tspan dx="2.6"> </tspan><tspan font-style="italic">r</tspan>)</text>
<text class="lb" style="font-size:27.5px" transform="translate(485,715.2) rotate(-90)" text-anchor="middle">F0 Stimulus-to-Response (<tspan dx="2.6"> </tspan><tspan font-style="italic">r</tspan>)</text>
<!-- annotations -->
<text class="an" x="180.9" y="173.8">n = 294</text>
<text class="an" x="182.4" y="196.3"><tspan font-style="italic">r</tspan><tspan dx="1.2"> = </tspan><tspan dx="1.3">-0.055,</tspan></text>
<text class="an" x="291" y="196.3" font-style="italic">p</text>
<text class="an" x="313" y="196.3">= 0.824</text>
<text class="an" x="647" y="129">n = 294</text>
<text class="an" x="648.3" y="152.6"><tspan font-style="italic">r</tspan><tspan dx="1.2"> = </tspan><tspan dx="1.4">-0.031,</tspan></text>
<text class="an" x="756.7" y="152.6" font-style="italic">p</text>
<text class="an" x="779" y="152.6">= 0.701</text>
<text class="an" x="137.8" y="558.9"><tspan>n = 294</tspan></text>
<text class="an" x="138.5" y="580.3"><tspan font-style="italic">r</tspan><tspan dx="1.8"> = </tspan><tspan dx="2">-0.074,</tspan></text>
<text class="an" x="247.9" y="580.3" font-style="italic">p</text>
<text class="an" x="269.1" y="580.3">= 0.897</text>
<text class="an" x="603.8" y="830">n = 264</text>
<text class="an" x="604.1" y="855.6"><tspan font-style="italic">r</tspan><tspan dx="2"> = </tspan><tspan dx="2">0.057,</tspan></text>
<text class="an" x="706.9" y="855.6" font-style="italic">p</text>
<text class="an" x="728.5" y="855.6">= 0.177</text>
<!-- arrows -->
<path d="M113.5,35.7 L157.4,43.2 L118.5,65.9 L127,51.3 Q128.6,48.9 126.6,47.1 Z" fill="#000" stroke="#000" stroke-width="1.4" stroke-linejoin="round"/>
<path d="M650.6,69.5 L694.9,61.3 L682.3,72.4 L683.3,73.6 L682.9,76.9 L681.2,77.5 L689.3,91.5 Z" fill="#000" stroke="#000" stroke-width="1.4" stroke-linejoin="round"/>

</svg></body></html>
